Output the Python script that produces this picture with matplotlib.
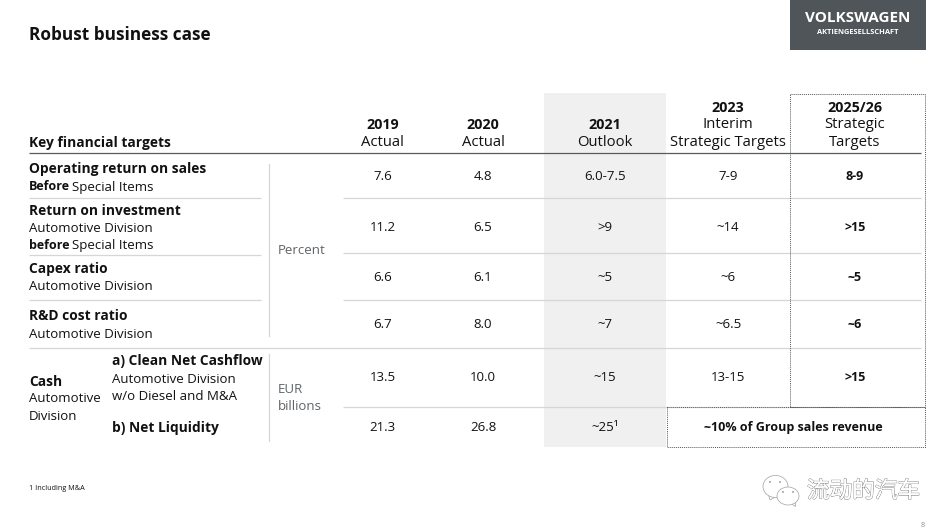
import matplotlib
matplotlib.use("Agg")
import matplotlib.pyplot as plt
import matplotlib.patheffects as pe
from matplotlib.patches import Rectangle, Ellipse, Polygon

plt.rcParams['font.family'] = ['Open Sans', 'DejaVu Sans']

columns = ["2019", "2020", "2021", "2023", "2025/26"]
subtitles = [["Actual"], ["Actual"], ["Outlook"], ["Interim", "Strategic Targets"], ["Strategic", "Targets"]]
col_x = [382.5, 483, 605, 728, 855]
row_y = [176.5, 227.5, 277.5, 324.5, 377.5, 427.5]
values = [
    ["7.6", "11.2", "6.6", "6.7", "13.5", "21.3"],
    ["4.8", "6.5", "6.1", "8.0", "10.0", "26.8"],
    ["6.0-7.5", ">9", "~5", "~7", "~15", "~25¹"],
    ["7-9", "~14", "~6", "~6.5", "13-15"],
    ["8-9", ">15", "~5", "~6", ">15"],
]
INK = "#111111"
GREY = "#5f6468"
RULE = "#d4d6d7"

fig = plt.figure(figsize=(9.51, 5.32), dpi=100, facecolor="white")
ax = fig.add_axes([0, 0, 1, 1])
ax.set_xlim(0, 951)
ax.set_ylim(532, 0)
ax.axis("off")

B = 9.95     # bold headings
S = 9.5      # regular body
SB = 9.0     # bold body

def t(x, y, s, size=S, weight="normal", color=INK, ha="left", va="center", **k):
    return ax.text(x, y + 1, s, fontsize=size, fontweight=weight, color=color, ha=ha, va=va, **k)

def rule(x0, x1, y, color=RULE, lw=0.9):
    ax.plot([x0, x1], [y, y], color=color, lw=lw, solid_capstyle="butt", zorder=2)

# shaded 2021 column
ax.add_patch(Rectangle((544, 93), 122, 354, fc="#f0f0f0", ec="none", zorder=0))

# title + logo
t(29, 34, "Robust business case", size=12.4, weight="bold")
ax.add_patch(Rectangle((790, 0), 136, 50, fc="#4f5558", ec="none"))
t(858, 16.5, "VOLKSWAGEN", size=11, weight="bold", color="white", ha="center")
t(858, 31, "AKTIENGESELLSCHAFT", size=5.4, weight="bold", color="white", ha="center")

# header
t(29, 141.5, "Key financial targets", size=B, weight="bold")
for x, c, sub in zip(col_x, columns, subtitles):
    n = len(sub)
    t(x, 141.5 - 17.5 * n, c, size=B + 0.3, weight="bold", ha="center")
    for i, line in enumerate(sub):
        t(x, 141.5 - 17.5 * (n - 1 - i), line, size=10.7, ha="center")
rule(29, 921, 153, color="#555a5d", lw=0.9)

# row labels
t(29, 168, "Operating return on sales", size=B, weight="bold")
t(29, 189.5, "Before", size=SB, weight="bold", va="baseline")
t(72, 189.5, "Special Items", va="baseline")
t(29, 210, "Return on investment", size=B, weight="bold")
t(29, 228, "Automotive Division")
t(29, 248, "before", size=SB, weight="bold", va="baseline")
t(72, 248, "Special Items", va="baseline")
t(29, 268, "Capex ratio", size=B, weight="bold")
t(29, 286, "Automotive Division")
t(29, 315, "R&D cost ratio", size=B, weight="bold")
t(29, 333, "Automotive Division")
t(29, 380.5, "Cash", size=B, weight="bold")
t(29, 398, "Automotive")
t(29, 415, "Division")
t(112, 360, "a) Clean Net Cashflow", size=B, weight="bold")
t(112, 378.5, "Automotive Division")
t(112, 395, "w/o Diesel and M&A")
t(112, 427, "b) Net Liquidity", size=B, weight="bold")

# units
t(278, 249, "Percent", color=GREY)
t(278, 388.5, "EUR", color=GREY)
t(278, 405, "billions", color=GREY)
ax.plot([269, 269], [164, 336], color=RULE, lw=0.9)
ax.plot([269, 269], [354, 441], color=RULE, lw=0.9)

# row rules
for y in [198, 255, 300]:
    rule(29, 261, y)
for y in [198, 253, 300]:
    rule(343, 921, y)
rule(29, 921, 347.5)
rule(343, 921, 407)

# values
for x, col, in zip(col_x, values):
    bold = x == col_x[-1]
    for y, v in zip(row_y, col):
        t(x, y - 1, v, size=SB if bold else S, weight="bold" if bold else "normal", ha="center")

# dotted boxes
dot = dict(fc="none", ec="#55595c", lw=0.7, ls=(0, (1, 1)), zorder=3)
ax.add_patch(Rectangle((789.5, 93.5), 135.5, 313.5, **dot))
ax.add_patch(Rectangle((666.5, 407), 258.5, 40, **dot))
t(793.5, 426, "~10% of Group sales revenue", size=SB, weight="bold", ha="center")

# footnote + page
t(29, 488, "1 Including M&A", size=5.2)
t(923, 524.5, "8", size=5.2, color="#8c8c8c", ha="center")

# watermark
for (cx, cy, w, h, tail) in [(775.5, 486.5, 25, 22, [(768, 493), (770, 500), (777, 496)]),
                             (788, 496, 22, 18, [(790, 503), (795.5, 506.5), (795, 500)])]:
    ax.add_patch(Polygon(tail, fc="white", ec="#a0a0a0", lw=0.5, zorder=4))
    ax.add_patch(Ellipse((cx, cy), w, h, fc="white", ec="#a0a0a0", lw=0.5, zorder=4))
for (dx, dy) in [(770, 482), (780, 482), (783, 492), (793, 492)]:
    ax.add_patch(Ellipse((dx, dy), 2, 1.5, fc="#888888", ec="none", zorder=5))
wm = ax.text(863.5, 491, "流动的汽车", fontsize=16.3, family=['Noto Sans CJK SC', 'DejaVu Sans'],
             color="white", ha="center", va="center", zorder=5)
wm.set_path_effects([pe.withStroke(linewidth=0.8, foreground="#808080"), pe.Normal()])

fig.savefig("out.png", dpi=100, facecolor="white")
